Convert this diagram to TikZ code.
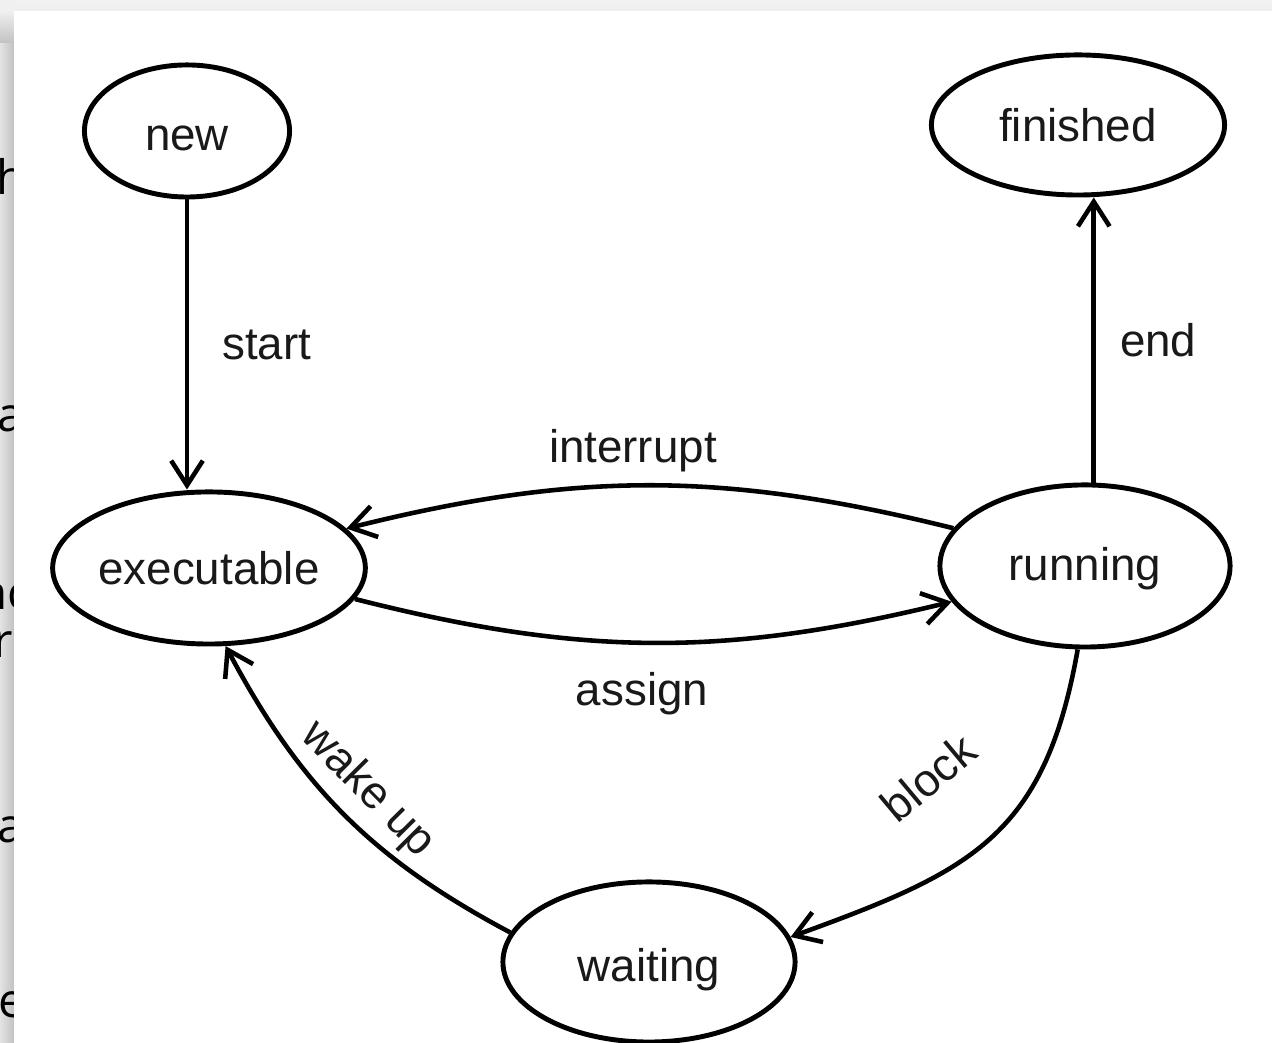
\documentclass[tikz,border=0pt]{standalone}
\usepackage{fontspec}
\setmainfont{Liberation Sans}
\newfontfamily\pagefont{Open Sans}
\usetikzlibrary{shapes.geometric,arrows.meta}
\begin{document}
\begin{tikzpicture}[x=0.01cm,y=0.01cm,
                    state/.style={draw,ellipse,line width=1.4pt,inner sep=0pt,text=black!90,
                                  font=\fontsize{13}{15}\selectfont},
                    arr/.style={-{Straight Barb[length=7pt,width=9pt]},line width=1.3pt},
                    lbl/.style={text=black!90,inner sep=0pt,font=\fontsize{13}{15}\selectfont},
                    frag/.style={anchor=base west,inner sep=0pt,font=\pagefont\fontsize{13.5}{15}\selectfont}]
                    \useasboundingbox (0,0) rectangle (1272,1043);
                    \fill[gray!12] (0,0) rectangle (1272,1043);
                    \shade[left color=gray!22,right color=gray!48] (0,0) rectangle (14,1000);
                    \shade[top color=gray!12,bottom color=gray!48] (0,1000) rectangle (14,1032);
                    \shade[top color=gray!10,bottom color=gray!14] (14,1032) rectangle (1272,1043);

                    \begin{scope}
                        \clip (0,0) rectangle (14,1043);
                        \node[frag] (fragh) at (-4,848) {h};
                        \node[frag] (fraga) at (-3,611) {a};
                        \node[frag] (fragnc) at (-22,433) {nc};
                        \node[frag] (fragrc) at (-7,385) {rc};
                        \node[frag] (fragaa) at (-3,200) {a};
                        \node[frag] (frage) at (-2,25) {e};
                    \end{scope}

                    \fill[white] (14,0) rectangle (1272,1032);

                    \node[state,minimum width=2.05cm,minimum height=1.32cm,text height=11pt] (new) at (187,912) {new};
                    \node[state,minimum width=2.93cm,minimum height=1.40cm] (finished) at (1078,918) {finished};
                    \node[state,minimum width=2.92cm,minimum height=1.52cm] (executable) at (209,475) {executable};
                    \node[state,minimum width=2.90cm,minimum height=1.62cm,text height=11pt] (running) at (1085,477) {running};
                    \node[state,minimum width=2.92cm,minimum height=1.60cm,text height=14pt] (waiting) at (649,81) {waiting};

                    \draw[arr] (new.south) -- (new.south |- executable.north)
                        node[lbl,midway,right=0.33cm] {start};
                    \draw[arr] (running.84) -- (running.84 |- finished.south)
                        node[lbl,midway,right=0.24cm] {end};
                    \draw[arr] (running.164) to[bend right=14]
                        node[lbl,pos=0.53,above=0.11cm] {interrupt} (executable.16);
                    \draw[arr] (executable.-12) to[bend right=14]
                        node[lbl,pos=0.48,below=0.27cm] {assign} (running.195);
                    \draw[arr] (running.-95) to[out=-100,in=20,looseness=1.2]
                        node[lbl,pos=0.52,sloped,above=0.67cm] {block} (waiting.10);
                    \draw[arr] (waiting.168) to[out=152,in=-62]
                        node[lbl,midway,sloped,above=0.1cm] {wake up} (executable.-78);
                \end{tikzpicture}
\end{document}
